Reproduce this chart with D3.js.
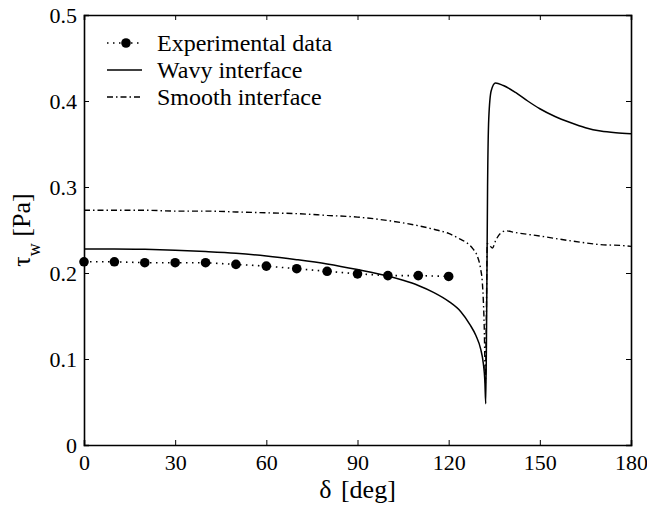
<!DOCTYPE html>
<html>
<head>
<meta charset="utf-8">
<script src="https://cdn.jsdelivr.net/npm/d3@7"></script>
<style>
  body { margin: 0; background: #fff; }
</style>
</head>
<body>
<svg id="chart"></svg>
<script>
// Experimental data (circles)
var expAngle = [0, 10, 20, 30, 40, 50, 60, 70, 80, 90, 100, 110, 120];
var expTau   = [0.213, 0.213, 0.212, 0.212, 0.212, 0.210, 0.208, 0.205, 0.202, 0.199, 0.197, 0.197, 0.196];

// Wavy interface (solid)
var wavyAngle = [0, 10, 20, 30, 40, 50, 60, 70, 80, 90, 100, 105, 110, 115, 120, 124, 127, 129, 130.5, 131.4, 131.9, 132.2,
                 132.5, 132.8, 133.2, 134, 135.4, 138, 142, 146, 150, 155, 160, 165, 170, 175, 180];
var wavyTau   = [0.228, 0.228, 0.2275, 0.2265, 0.225, 0.223, 0.2198, 0.2155, 0.2105, 0.204, 0.1965, 0.1915, 0.1855, 0.1775, 0.167, 0.155, 0.140, 0.127, 0.112, 0.095, 0.075, 0.048,
                 0.15, 0.30, 0.38, 0.412, 0.421, 0.418, 0.410, 0.400, 0.391, 0.382, 0.375, 0.369, 0.365, 0.363, 0.362];

// Smooth interface (dash-dot)
var smoothAngle = [0, 10, 20, 30, 40, 50, 60, 70, 80, 90, 100, 110, 116, 120, 124, 126, 128, 129.5, 130.5, 131.1, 131.7, 132.1,
                   132.4, 132.7, 133.5, 134.4, 135.5, 137, 138.8, 142, 150, 159, 165, 170, 176.7, 180];
var smoothTau   = [0.273, 0.273, 0.273, 0.272, 0.272, 0.271, 0.270, 0.269, 0.267, 0.265, 0.261, 0.255, 0.250, 0.246, 0.239, 0.235, 0.228, 0.219, 0.205, 0.188, 0.138, 0.072,
                   0.15, 0.234, 0.232, 0.229, 0.238, 0.246, 0.249, 0.247, 0.243, 0.238, 0.235, 0.233, 0.232, 0.231];

// Ticks
var xTicks = [0, 30, 60, 90, 120, 150, 180];
var yTicks = [0, 0.1, 0.2, 0.3, 0.4, 0.5];

var legendLabels = ["Experimental data", "Wavy interface", "Smooth interface"];

var font = "'Liberation Serif', 'Times New Roman', Times, serif";
var tickSize = 22, legendSize = 24, labelSize = 26;

var svgwidth = 647, svgheight = 506;
var margin = {top: 15, right: 16, bottom: 61, left: 84};
var width = svgwidth - margin.left - margin.right;
var height = svgheight - margin.top - margin.bottom;

var svg = d3.select("#chart")
    .attr("width", svgwidth)
    .attr("height", svgheight)
    .attr("font-family", font);

var g = svg.append("g")
    .attr("transform", "translate(" + margin.left + "," + margin.top + ")");

var xScale = d3.scaleLinear().domain([0, 180]).range([0, width]);
var yScale = d3.scaleLinear().domain([0, 0.5]).range([height, 0]);

function zip(a, b) {
    return a.map(function (d, i) { return [d, b[i]]; });
}

var line = d3.line()
    .x(function (d) { return xScale(d[0]); })
    .y(function (d) { return yScale(d[1]); })
    .curve(d3.curveMonotoneX);

var straight = d3.line()
    .x(function (d) { return xScale(d[0]); })
    .y(function (d) { return yScale(d[1]); });

//Axis (ticks inward, mirrored on top/right)
var fmtY = function (d) { return d === 0 ? "0" : d3.format(".1f")(d); };

function styleText(a) {
    a.attr("font-family", font).attr("font-size", tickSize);
    a.selectAll("text").attr("fill", "#000");
}

g.append("g")
    .attr("transform", "translate(0," + height + ")")
    .call(d3.axisBottom(xScale).tickValues(xTicks).tickSize(-5).tickPadding(9))
    .call(styleText);

g.append("g")
    .call(d3.axisTop(xScale).tickValues(xTicks).tickSize(-5).tickFormat(""));

g.append("g")
    .call(d3.axisLeft(yScale).tickValues(yTicks).tickSize(-5).tickPadding(7).tickFormat(fmtY))
    .call(styleText);

g.append("g")
    .attr("transform", "translate(" + width + ",0)")
    .call(d3.axisRight(yScale).tickValues(yTicks).tickSize(-5).tickFormat(""));

g.selectAll(".domain").attr("stroke", "#000").attr("stroke-width", 1.6);
g.selectAll(".tick line").attr("stroke", "#000").attr("stroke-width", 1);

//Curves
g.append("path")
    .attr("d", line(zip(smoothAngle, smoothTau)))
    .attr("fill", "none")
    .attr("stroke", "#000")
    .attr("stroke-width", 1.4)
    .attr("stroke-dasharray", "6,3,1.5,3");

g.append("path")
    .attr("d", line(zip(wavyAngle, wavyTau)))
    .attr("fill", "none")
    .attr("stroke", "#000")
    .attr("stroke-width", 1.5);

g.append("path")
    .attr("d", straight(zip(expAngle, expTau)))
    .attr("fill", "none")
    .attr("stroke", "#000")
    .attr("stroke-width", 1.6)
    .attr("stroke-dasharray", "1.5,4.5");

g.selectAll(".dot")
    .data(zip(expAngle, expTau))
    .enter()
    .append("circle")
    .attr("class", "dot")
    .attr("cx", function (d) { return xScale(d[0]); })
    .attr("cy", function (d) { return yScale(d[1]); })
    .attr("r", 4.8)
    .attr("fill", "#000");

//Legend
var legend = svg.append("g").attr("transform", "translate(107,43)");
var styles = [
    {dash: "1.5,4.5", marker: true},
    {dash: null, marker: false},
    {dash: "6,3,1.5,3", marker: false}
];
legendLabels.forEach(function (lab, i) {
    var row = legend.append("g").attr("transform", "translate(0," + (i * 27) + ")");
    row.append("line")
        .attr("x1", 0).attr("x2", 35).attr("y1", 0).attr("y2", 0)
        .attr("stroke", "#000").attr("stroke-width", 1.5)
        .attr("stroke-dasharray", styles[i].dash);
    if (styles[i].marker) {
        row.append("circle").attr("cx", 19).attr("cy", 0).attr("r", 4.8).attr("fill", "#000");
    }
    row.append("text")
        .attr("x", 50).attr("y", 8)
        .attr("font-size", legendSize)
        .text(lab);
});

//Axis labels
svg.append("text")
    .attr("x", margin.left + width / 2)
    .attr("y", 498)
    .attr("text-anchor", "middle")
    .attr("font-size", labelSize)
    .attr("word-spacing", 3)
    .text("δ [deg]");

var yl = svg.append("text")
    .attr("transform", "translate(30," + (margin.top + height / 2) + ") rotate(-90)")
    .attr("text-anchor", "middle")
    .attr("font-size", labelSize);
yl.append("tspan").text("τ");
yl.append("tspan").attr("font-size", 18).attr("dy", 10).text("w");
yl.append("tspan").attr("dy", -10).text(" [Pa]");
</script>
</body>
</html>
